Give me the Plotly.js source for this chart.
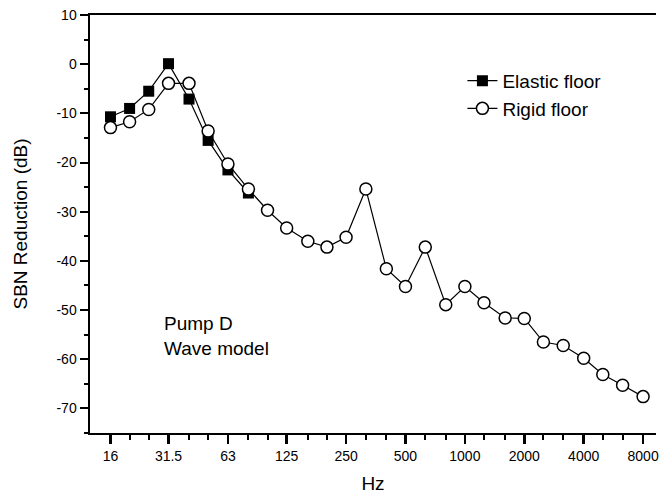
<!DOCTYPE html>
<html>
<head>
<meta charset="utf-8">
<script src="https://cdn.plot.ly/plotly-3.0.1.min.js"></script>
<style>html,body{margin:0;padding:0;background:#fff;}#chart{width:659px;height:499px;}</style>
</head>
<body>
<div id="chart"></div>
<script>
const freqs = [16,20,25,31.5,40,50,63,80,100,125,160,200,250,315,400,500,630,800,1000,1250,1600,2000,2500,3150,4000,5000,6300,8000];
const elasticFreqs = [16,20,25,31.5,40,50,63,80];
const elasticFloor = [-10.7,-9.0,-5.5,0.1,-7.1,-15.5,-21.5,-26.2];
const rigidFloor = [-12.9,-11.7,-9.2,-3.9,-3.9,-13.6,-20.3,-25.4,-29.7,-33.3,-36.0,-37.2,-35.2,-25.4,-41.6,-45.2,-37.2,-48.9,-45.2,-48.5,-51.6,-51.7,-56.5,-57.2,-59.8,-63.1,-65.3,-67.6];
const xTickVals = [16,31.5,63,125,250,500,1000,2000,4000,8000];
const xTickText = ["16","31.5","63","125","250","500","1000","2000","4000","8000"];
const yTickVals = [-70,-60,-50,-40,-30,-20,-10,0,10];
const yTickText = ["-70","-60","-50","-40","-30","-20","-10","0","10"];
const yMinorVals = [-75,-65,-55,-45,-35,-25,-15,-5,5];

const font = "Liberation Sans, Arial, sans-serif";

const data = [
  {
    x: elasticFreqs, y: elasticFloor, name: "Elastic floor", mode: "lines+markers",
    line: {color: "#000", width: 1.2},
    marker: {symbol: "square", size: 11, color: "#000"}
  },
  {
    x: freqs, y: rigidFloor, name: "Rigid floor", mode: "lines+markers",
    line: {color: "#000", width: 1.2},
    marker: {symbol: "circle", size: 12, color: "#fff", line: {width: 1.5, color: "#000"}}
  }
];

const layout = {
  width: 659, height: 499,
  margin: {l: 90, r: 3, t: 15, b: 66},
  paper_bgcolor: "#fff", plot_bgcolor: "#fff",
  font: {family: font, color: "#000", size: 14},
  showlegend: true,
  legend: {x: 0.658, y: 0.888, xanchor: "left", yanchor: "top", bgcolor: "rgba(0,0,0,0)",
    font: {family: font, size: 19, color: "#000"}, traceorder: "normal"},
  xaxis: {
    type: "log", range: [Math.log10(12.6), Math.log10(9300)],
    tickmode: "array", tickvals: xTickVals, ticktext: xTickText,
    ticks: "outside", ticklen: 9, tickwidth: 2.5, tickcolor: "#000",
    minor: {tickmode: "array", tickvals: freqs, ticks: "outside", ticklen: 5, tickwidth: 2, tickcolor: "#000"},
    showline: true, linewidth: 2, linecolor: "#000", mirror: true,
    showgrid: false, zeroline: false,
    tickfont: {family: font, size: 14, color: "#000"},
    title: {text: "Hz", font: {family: font, size: 19, color: "#000"}, standoff: 14}
  },
  yaxis: {
    range: [-75, 10],
    tickmode: "array", tickvals: yTickVals, ticktext: yTickText,
    ticks: "outside", ticklen: 8, tickwidth: 2, tickcolor: "#000",
    minor: {tickmode: "array", tickvals: yMinorVals, ticks: "outside", ticklen: 4, tickwidth: 2, tickcolor: "#000"},
    showline: true, linewidth: 2.5, linecolor: "#000", mirror: false,
    showgrid: false, zeroline: false,
    tickfont: {family: font, size: 14, color: "#000"},
    title: {text: "SBN Reduction (dB)", font: {family: font, size: 19, color: "#000"}, standoff: 24}
  },
  annotations: [{
    xref: "paper", yref: "paper", x: 0.128, y: 0.292, xanchor: "left", yanchor: "top", align: "left",
    showarrow: false, text: "Pump D<br>Wave model", font: {family: font, size: 19, color: "#000"}
  }]
};

Plotly.newPlot("chart", data, layout, {displayModeBar: false, staticPlot: true});
</script>
</body>
</html>
